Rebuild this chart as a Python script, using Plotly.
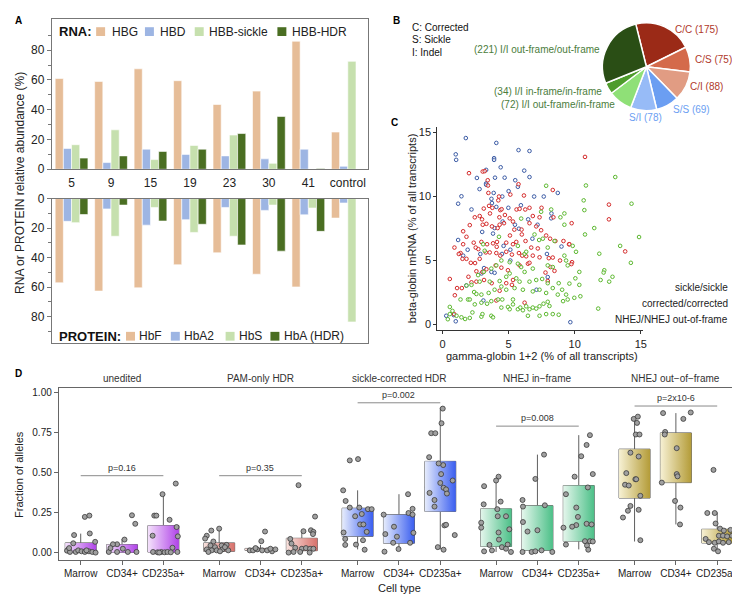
import plotly.graph_objects as go

W, H = 740, 594
def px(x): return x / W
def py(y): return 1 - y / H

FONT = "Liberation Sans, Arial, sans-serif"

# ---------------- Panel A data ----------------
groups = ["5", "9", "15", "19", "23", "30", "41", "control"]
rna_names = ["HBG", "HBD", "HBB-sickle", "HBB-HDR"]
rna_hbg = [61, 59, 67.5, 59.5, 43.5, 52.5, 86, 25]
rna_hbd = [14, 4.5, 13.5, 10, 9, 7, 13.5, 2]
rna_sickle = [16.5, 26.5, 6.5, 16, 23, 4, 0, 72.5]
rna_hdr = [7.5, 9, 12, 13.5, 24, 35.5, 0.5, 0]
prot_names = ["HbF", "HbA2", "HbS", "HbA (HDR)"]
prot_hbf = [57, 62.6, 60.4, 44.8, 36.7, 51.2, 59.8, 13.2]
prot_hba2 = [15.4, 7, 18, 14.3, 6, 8, 11, 3]
prot_hbs = [16.3, 25.5, 6, 22.9, 25.5, 4.4, 6.4, 83.5]
prot_hba = [10.8, 4.4, 15.2, 17.4, 31.4, 35.6, 22.2, 0]
a_yticks = [0, 20, 40, 60, 80]

# ---------------- Panel B data ----------------
pie_labels = ["C/C", "C/S", "C/I", "S/S", "S/I",
              "I/I out-frame/in-frame", "I/I in-frame/in-frame", "I/I out-frame/out-frame"]
pie_values = [175, 75, 88, 69, 78, 72, 34, 221]
key_lines = ["C: Corrected", "S: Sickle", "I: Indel"]

# ---------------- Panel C data ----------------
sickle_pts = [(1.76,14.54),(1.0,13.27),(1.03,12.84),(4.07,14.16),(5.75,13.6),(6.58,13.53),(6.18,12.0),
              (3.9,12.97),(3.9,12.84),(4.4,12.26),(3.3,12.06),(2.6,11.43),(3.97,11.45),(4.7,11.45),
              (5.5,11.25),(6.58,11.5),(3.3,11.0),(3.3,10.9),(5.7,10.74),(2.8,10.56),(1.43,10.0),
              (3.87,10.26),(5.0,10.4),(1.18,9.42),(2.19,8.97),(3.7,9.8),(3.74,9.47),(4.52,9.98),
              (5.93,9.3),(6.93,9.98),(7.66,9.98),(8.72,10.26),(8.24,8.66),(8.22,8.28),(4.98,9.1),
              (4.07,9.17),(7.19,7.78),(5.48,7.78),(5.78,7.47),(6.48,8.2),(4.55,8.03),(3.94,7.52),
              (3.82,7.09),(3.0,7.22),(1.18,6.59),(1.56,5.37),(1.9,5.83),(4.62,6.13),(5.13,5.83),
              (6.8,6.69),(9.0,6.08),(7.9,5.5),(4.5,5.5),(2.86,5.5),(3.14,4.4),(2.95,3.98),(3.7,4.1),
              (3.94,4.03),(5.13,4.99),(7.96,3.7),(1.8,3.04),(3.09,1.87),(7.11,2.71),(0.28,0.68),
              (1.0,0.25),(9.67,0.18),(0.85,0.73)]
corrected_pts = [(2.0,11.8),(3.04,11.93),(3.19,11.96),(3.42,11.25),(3.44,10.84),(5.75,10.94),(5.13,10.13),
                 (4.27,9.98),(3.47,10.26),(8.34,10.49),(10.78,13.07),(12.59,9.35),(12.59,8.2),(13.82,5.7),
                 (9.77,7.9),(9.57,6.26),(0.9,6.0),(1.56,6.26),(1.36,5.57),(1.23,5.5),(1.51,5.12),(0.55,3.55),
                 (0.93,2.28),(1.1,2.84),(1.46,2.84),(0.88,0.81),(1.56,7.27),(1.81,6.84),(2.06,7.75),
                 (2.44,8.36),(2.81,8.46),(2.99,8.2),(3.12,9.04),(3.52,9.25),(3.59,8.66),(3.77,9.1),
                 (4.22,9.68),(4.37,8.92),(4.47,8.99),(4.3,8.36),(4.72,8.54),(5.08,8.28),(5.33,8.03),
                 (5.6,8.97),(5.83,9.02),(6.26,8.97),(6.58,9.1),(6.83,8.46),(7.34,8.36),(8.39,8.36),
                 (7.49,9.1),(6.16,10.06),(3.04,7.78),(3.32,7.85),(3.74,7.65),(4.17,7.52),(4.32,7.78),
                 (4.65,7.9),(5.1,6.94),(5.43,7.4),(5.98,7.4),(6.0,7.02),(6.58,7.9),(7.09,7.65),(7.46,7.35),
                 (7.84,6.94),(8.14,6.69),(8.54,6.51),(9.15,6.51),(9.6,6.26),(2.36,6.38),(2.51,6.0),
                 (2.71,5.88),(2.94,6.44),(3.37,6.26),(3.82,6.33),(4.12,6.44),(4.1,6.06),(4.82,6.38),
                 (5.33,6.26),(5.58,6.44),(6.28,6.51),(6.71,6.0),(7.21,5.93),(1.81,5.12),(2.14,4.81),
                 (2.46,4.79),(2.81,5.12),(3.27,5.62),(3.57,5.62),(4.07,5.57),(4.37,5.37),(4.82,5.67),
                 (5.25,5.45),(5.78,5.57),(6.03,5.37),(6.33,5.32),(6.83,5.37),(7.34,5.24),(8.04,5.17),
                 (8.34,5.22),(8.89,4.99),(9.8,4.86),(9.75,4.71),(2.56,4.15),(3.02,4.1),(3.32,4.31),
                 (4.02,4.61),(4.45,4.43),(5.83,4.61),(6.46,4.74),(6.58,4.81),(7.79,4.05),(8.47,4.18),
                 (2.19,3.29),(2.56,3.34),(3.14,3.47),(3.72,3.22),(4.82,3.22),(5.33,3.47),(4.32,2.63),
                 (5.25,3.09),(6.21,1.7),(7.96,3.39),(4.07,1.87),(1.96,3.72),(4.95,4.23),(8.17,4.48)]
nhej_pts = [(7.84,10.82),(10.85,10.84),(13.07,11.5),(10.68,9.68),(10.73,8.92),(10.78,7.02),(11.48,7.52),
            (14.3,9.42),(14.87,6.82),(13.44,6.13),(14.25,4.81),(11.86,5.52),(12.86,3.72),(12.61,3.34),
            (12.24,4.23),(12.19,4.05),(11.96,3.47),(11.78,1.24),(9.22,8.66),(8.22,8.97),(8.92,8.36),
            (7.46,8.79),(9.22,7.78),(7.59,6.69),(8.47,6.51),(9.85,6.13),(10.1,5.67),(9.22,5.37),
            (9.35,4.99),(9.47,4.61),(10.35,4.1),(10.05,3.6),(10.35,3.09),(9.6,3.19),(10.43,2.2),
            (9.97,2.08),(9.47,1.95),(9.35,2.33),(9.05,2.71),(8.79,3.22),(8.34,2.84),(7.96,3.22),
            (7.54,3.55),(7.09,3.47),(6.58,3.34),(6.21,4.1),(5.95,4.48),(5.7,4.74),(5.08,4.86),
            (4.45,4.99),(4.07,4.61),(3.69,4.36),(3.12,4.1),(2.69,3.85),(2.19,3.09),(1.81,3.04),
            (2.39,2.53),(2.56,2.38),(2.94,2.33),(3.49,2.46),(3.94,2.71),(4.45,2.96),(4.82,2.71),
            (5.45,2.84),(6.08,2.71),(6.83,2.58),(7.34,2.71),(7.84,2.46),(1.36,1.95),(1.93,1.95),
            (2.44,1.57),(2.94,1.7),(3.37,1.62),(3.69,1.82),(4.2,1.95),(4.52,1.95),(4.95,1.37),
            (5.08,1.19),(5.33,1.57),(5.7,1.19),(5.88,1.32),(6.08,1.11),(6.33,1.42),(6.58,1.19),
            (6.83,1.32),(7.09,1.24),(7.34,1.42),(7.64,1.62),(7.96,1.77),(8.09,1.44),(8.34,0.81),
            (8.79,0.76),(6.46,0.68),(7.34,0.68),(7.84,0.81),(3.69,0.68),(3.82,0.56),(2.94,0.61),
            (2.06,0.51),(1.43,0.56),(1.71,0.43),(2.26,0.94),(0.75,1.06),(0.55,0.81),(0.4,0.41),
            (1.06,0.68),(0.55,1.37),(3.02,0.81),(5.33,1.95),(4.45,1.32),(9.12,1.82),(8.72,2.33),
            (2.06,1.95),(3.07,6.26),(3.19,5.75),(4.27,6.84),(5.7,6.13),(5.95,8.26),(6.21,5.5),
            (6.96,7.02),(7.31,6.59),(7.96,6.0),(6.33,5.67),(6.83,4.36),(7.96,4.61),(8.34,4.48),
            (5.08,3.98),(5.58,3.6),(2.81,3.34),(3.57,3.34),(4.32,3.39),(5.83,3.34),(4.82,3.72)]
c_names = ["sickle/sickle", "corrected/corrected", "NHEJ/NHEJ out-of-frame"]
c_ticks = [0, 5, 10, 15]

# ---------------- Panel D data ----------------
facets = ["unedited", "PAM-only HDR", "sickle-corrected HDR", "NHEJ in\u2212frame", "NHEJ out\u2212of\u2212frame"]
cell_types = ["Marrow", "CD34+", "CD235a+"]
box_q1 = [0.005, 0.003, 0.005, 0.010, 0.016, 0.014, 0.103, 0.060, 0.258, 0.040, 0.016, 0.073, 0.341, 0.437, 0.062]
box_med = [0.020, 0.010, 0.010, 0.030, 0.022, 0.035, 0.224, 0.125, 0.409, 0.149, 0.137, 0.204, 0.466, 0.548, 0.087]
box_q3 = [0.0625, 0.052, 0.170, 0.0625, 0.028, 0.091, 0.278, 0.238, 0.569, 0.274, 0.294, 0.419, 0.645, 0.746, 0.147]
box_lo = [0.0, 0.0, 0.0, 0.002, 0.006, 0.0, 0.022, 0.016, 0.022, 0.006, 0.0, 0.022, 0.071, 0.177, 0.016]
box_hi = [0.12, 0.087, 0.37, 0.16, 0.05, 0.137, 0.389, 0.365, 0.903, 0.46, 0.611, 0.732, 0.847, 0.869, 0.252]

pts_unedited = [
    [(0.10,0.224),(0.21,0.232),(-0.16,0.111),(0.22,0.121),(-0.18,0.060),(0.35,0.069),(-0.30,0.022),(-0.33,0.014),
     (-0.26,0.006),(-0.12,0.006),(-0.06,0.016),(0.02,0.010),(0.10,0.006),(0.20,0.010),(0.28,0.006),(0.36,0.002),
     (-0.28,0.030),(0.14,0.016)],
    [(0.24,0.234),(0.32,0.181),(0.06,0.083),(-0.12,0.054),(-0.22,0.054),(-0.32,0.006),(-0.12,0.006),(0.14,0.006),
     (0.35,0.006),(0.02,0.026),(-0.28,0.030)],
    [(0.30,0.431),(-0.02,0.365),(-0.22,0.232),(-0.17,0.232),(0.15,0.206),(-0.26,0.107),(0.35,0.103),(0.32,0.161),
     (0.22,0.032),(-0.25,0.006),(-0.14,0.004),(-0.05,0.006),(0.03,0.004),(0.10,0.006),(0.18,0.004),(0.34,0.006),
     (-0.10,0.002)]]
pts_pam = [
    [(0.0,0.151),(-0.19,0.139),(-0.30,0.107),(-0.34,0.089),(-0.14,0.071),(-0.21,0.046),(-0.10,0.036),(0.06,0.046),
     (0.18,0.050),(-0.30,0.022),(-0.18,0.016),(-0.06,0.016),(0.08,0.022),(0.22,0.016),(0.14,0.036),(0.02,0.010),
     (-0.26,0.006)],
    [(0.11,0.133),(0.02,0.073),(-0.26,0.016),(-0.18,0.016),(-0.08,0.022),(0.04,0.016),(0.16,0.016),(0.28,0.010),
     (0.36,0.022),(0.24,0.026),(-0.12,0.030)],
    [(-0.08,0.421),(0.32,0.226),(0.22,0.141),(0.28,0.131),(0.27,0.117),(0.04,0.135),(-0.28,0.087),(-0.25,0.058),
     (-0.16,0.032),(0.0,0.026),(0.10,0.030),(0.20,0.026),(-0.32,0.002),(-0.20,0.006),(-0.04,0.006),(0.19,0.002),
     (0.28,0.026)]]
pts_sickle = [
    [(-0.19,0.575),(0.01,0.583),(-0.35,0.389),(-0.29,0.323),(-0.19,0.282),(0.04,0.282),(0.10,0.242),(0.25,0.272),
     (0.34,0.272),(0.06,0.177),(0.14,0.177),(-0.34,0.127),(0.22,0.131),(-0.30,0.087),(0.13,0.079),(-0.30,0.050),
     (-0.04,0.052),(0.17,0.020),(-0.06,0.228)],
    [(0.22,0.365),(-0.37,0.238),(0.23,0.248),(0.33,0.274),(0.33,0.238),(-0.12,0.163),(0.35,0.125),(-0.33,0.117),
     (-0.05,0.101),(0.27,0.063),(-0.14,0.063),(-0.35,0.008),(-0.01,0.024)],
    [(0.06,0.897),(0.03,0.806),(-0.22,0.744),(-0.12,0.744),(-0.27,0.595),(0.07,0.546),(-0.04,0.556),(0.02,0.490),
     (0.30,0.450),(0.0,0.435),(0.08,0.405),(0.14,0.395),(0.16,0.369),(-0.26,0.373),(-0.14,0.329),(-0.14,0.288),
     (0.10,0.171),(0.14,0.175),(0.35,0.111),(-0.06,0.036),(0.08,0.020)]]
pts_nhej_in = [
    [(0.06,0.474),(0.0,0.45),(0.11,0.319),(0.03,0.272),(0.24,0.228),(0.04,0.228),(0.32,0.147),(0.06,0.127),
     (0.07,0.083),(0.28,0.052),(0.14,0.036),(0.24,0.026),(0.36,0.006),(-0.10,0.016),(-0.16,0.050),(-0.29,0.415),
     (-0.30,0.302),(-0.36,0.188),(-0.36,0.157),(-0.29,0.010)],
    [(0.16,0.611),(-0.05,0.46),(-0.36,0.329),(0.18,0.296),(-0.35,0.288),(-0.35,0.192),(-0.24,0.133),(0.0,0.141),
     (-0.36,0.006),(-0.14,0.006),(-0.05,0.010),(0.10,0.016),(0.36,0.006)],
    [(0.27,0.732),(0.19,0.671),(0.06,0.601),(0.34,0.49),(-0.10,0.474),(0.22,0.407),(-0.31,0.365),(-0.06,0.282),
     (-0.02,0.224),(0.19,0.181),(0.31,0.177),(-0.37,0.157),(-0.06,0.173),(-0.16,0.163),(-0.31,0.052),(0.15,0.073),
     (0.27,0.073),(0.34,0.071),(0.20,0.046),(0.23,0.020)]]
pts_nhej_out = [
    [(-0.02,0.833),(0.06,0.808),(0.08,0.847),(0.03,0.736),(0.12,0.736),(-0.10,0.623),(0.10,0.599),(-0.20,0.496),
     (0.02,0.458),(0.04,0.458),(-0.23,0.424),(-0.14,0.419),(0.14,0.355),(-0.10,0.292),(-0.16,0.262),(0.10,0.268),
     (-0.28,0.220),(0.14,0.079)],
    [(-0.31,0.869),(0.36,0.873),(0.18,0.833),(-0.26,0.752),(-0.27,0.736),(0.02,0.651),(0.02,0.49),(0.04,0.476),
     (-0.34,0.437),(-0.02,0.323),(0.11,0.282),(0.10,0.177)],
    [(-0.09,0.516),(-0.24,0.248),(-0.06,0.248),(-0.04,0.183),(0.07,0.151),(0.16,0.139),(0.32,0.143),(0.04,0.107),
     (0.14,0.107),(0.24,0.103),(0.36,0.107),(-0.28,0.087),(-0.20,0.067),(-0.06,0.063),(0.04,0.071),(0.14,0.063),
     (0.28,0.067),(-0.08,0.026),(0.02,0.010)]]
facet_points = [pts_unedited, pts_pam, pts_sickle, pts_nhej_in, pts_nhej_out]
p_labels = ["p=0.16", "p=0.35", "p=0.002", "p=0.008", "p=2x10-6"]
p_heights = [0.48, 0.48, 0.933, 0.788, 0.913]
d_yticks = [0, 0.25, 0.5, 0.75, 1.0]

# ---------------- styles ----------------
rna_colors = ["#e6bd98", "#9db5e3", "#c6e0ae", "#4a6e22"]
pie_colors = ["#9b2a17", "#d46a4b", "#e19c83", "#6b9ef2", "#97bbf7", "#8fe077", "#4e9c2c", "#2a4e15"]
pie_text_colors = ["#b0392a"] * 3 + ["#6b9ef2"] * 2 + ["#4b7d3c"] * 3
c_colors = ["#3b5ba5", "#d42a2a", "#5cb82f"]
facet_light = ["#f4e2fb", "#f8e2de", "#e6ecfc", "#e4f6ec", "#f7f1d4"]
facet_dark = ["#b043e8", "#d8716b", "#3a5ef0", "#4cc088", "#b49c38"]
FACET_STEP = 3.35
BOX_W = 0.75

fig = go.Figure()

# Panel A bars
for name, vals, col in zip(rna_names, [rna_hbg, rna_hbd, rna_sickle, rna_hdr], rna_colors):
    fig.add_trace(go.Bar(x=groups, y=vals, name=name, marker=dict(color=col, line=dict(color="white", width=0.6)),
                         xaxis="x", yaxis="y", showlegend=False))
for name, vals, col in zip(prot_names, [prot_hbf, prot_hba2, prot_hbs, prot_hba], rna_colors):
    fig.add_trace(go.Bar(x=groups, y=vals, name=name, marker=dict(color=col, line=dict(color="white", width=0.6)),
                         xaxis="x2", yaxis="y2", showlegend=False))

# Panel B pie
fig.add_trace(go.Pie(labels=pie_labels, values=pie_values, sort=False, direction="clockwise", rotation=-14,
                     textinfo="none", marker=dict(colors=pie_colors, line=dict(color="white", width=1.5)),
                     domain=dict(x=[px(596), px(686)], y=[py(98), py(8)]), showlegend=False))

# Panel C scatter
for name, pts, col in zip(c_names, [sickle_pts, corrected_pts, nhej_pts], c_colors):
    fig.add_trace(go.Scatter(x=[p[0] for p in pts], y=[p[1] for p in pts], mode="markers", name=name,
                             marker=dict(size=3.6, color="rgba(255,255,255,0.6)", line=dict(color=col, width=1)),
                             xaxis="x3", yaxis="y3", showlegend=False))

# Panel D boxes
d_tickvals, d_ticktext = [], []
for f, fname in enumerate(facets):
    for j, ct in enumerate(cell_types):
        k = f * 3 + j
        pos = f * FACET_STEP + j
        d_tickvals.append(pos)
        d_ticktext.append(ct)
        fig.add_trace(go.Scatter(x=[pos - BOX_W / 2, pos + BOX_W / 2, pos + BOX_W / 2, pos - BOX_W / 2, pos - BOX_W / 2],
                                 y=[box_q1[k], box_q1[k], box_q3[k], box_q3[k], box_q1[k]],
                                 mode="lines", fill="toself", line=dict(width=0),
                                 fillgradient=dict(type="horizontal",
                                                   colorscale=[[0, facet_light[f]], [1, facet_dark[f]]]),
                                 xaxis="x4", yaxis="y4", showlegend=False, hoverinfo="skip"))
        fig.add_trace(go.Box(x=[pos], q1=[box_q1[k]], median=[box_med[k]], q3=[box_q3[k]],
                             lowerfence=[box_lo[k]], upperfence=[box_hi[k]], width=BOX_W, whiskerwidth=0,
                             fillcolor="rgba(0,0,0,0)", line=dict(color="#606060", width=1),
                             boxpoints=False, xaxis="x4", yaxis="y4", showlegend=False))
        pts = facet_points[f][j]
        fig.add_trace(go.Scatter(x=[pos + p[0] for p in pts], y=[p[1] for p in pts], mode="markers",
                                 marker=dict(size=5, color="#a0a0a0", line=dict(color="#3a3a3a", width=0.8)),
                                 xaxis="x4", yaxis="y4", showlegend=False))

shapes = []
annotations = []

# p-value brackets and facet titles
for f in range(len(facets)):
    x0 = f * FACET_STEP
    x1 = f * FACET_STEP + 2
    shapes.append(dict(type="line", xref="x4", yref="y4", x0=x0, x1=x1, y0=p_heights[f], y1=p_heights[f],
                       line=dict(color="#8a8a8a", width=1)))
    annotations.append(dict(xref="x4", yref="y4", x=(x0 + x1) / 2, y=p_heights[f], yshift=8, text=p_labels[f],
                            showarrow=False, font=dict(size=9, color="#333")))
    annotations.append(dict(xref="x4", yref="paper", x=f * FACET_STEP + 1, y=py(372), text=facets[f],
                            showarrow=False, font=dict(size=10, color="#333")))

# Panel A legends
def legend_row(title, names, sq_centers, text_starts, yc):
    annotations.append(dict(xref="paper", yref="paper", x=px(49), y=py(yc), xanchor="left", yanchor="middle",
                            text="<b>" + title + "</b>", showarrow=False, font=dict(size=13, color="#111")))
    for nm, sc, ts, col in zip(names, sq_centers, text_starts, rna_colors):
        shapes.append(dict(type="rect", xref="paper", yref="paper", x0=px(sc - 4.5), x1=px(sc + 4.5),
                           y0=py(yc + 4.5), y1=py(yc - 4.5), fillcolor=col, line=dict(width=0)))
        annotations.append(dict(xref="paper", yref="paper", x=px(ts), y=py(yc), xanchor="left", yanchor="middle",
                                text=nm, showarrow=False, font=dict(size=12, color="#222")))

legend_row("RNA:", rna_names, [93, 142, 192, 275], [102, 151, 200, 283], 17)
legend_row("PROTEIN:", prot_names, [123, 168, 223, 268], [130, 175, 230, 275], 329)

annotations.append(dict(xref="paper", yref="paper", x=px(12), y=py(172), textangle=-90,
                        text="RNA or PROTEIN relative abundance (%)", showarrow=False,
                        font=dict(size=12, color="#222")))

# Panel B labels
pie_label_pos = [(668, 15, "left"), (688, 46, "left"), (683, 73, "left"), (666, 97, "left"), (622, 105, "left"),
                 (611, 92, "right"), (598, 78, "right"), (596, 35, "right")]
for lab, val, col, (lx, ly, anc) in zip(pie_labels, pie_values, pie_text_colors, pie_label_pos):
    txt = f"{lab} ({val})" if anc == "left" else f"({val}) {lab}"
    annotations.append(dict(xref="paper", yref="paper", x=px(lx), y=py(ly), xanchor=anc, yanchor="middle",
                            text=txt, showarrow=False, font=dict(size=10, color=col)))
for i, line in enumerate(key_lines):
    annotations.append(dict(xref="paper", yref="paper", x=px(404), y=py(13 + i * 12.5), xanchor="left",
                            yanchor="middle", text=line, showarrow=False, font=dict(size=10, color="#111")))

# Panel C labels / legend (ring key drawn as small circle shapes)
for i, (name, col) in enumerate(zip(c_names, c_colors)):
    yy = 279 + i * 16.5
    annotations.append(dict(xref="paper", yref="paper", x=px(725), y=py(yy), xanchor="right", yanchor="middle",
                            text=name, showarrow=False, font=dict(size=10, color="#222")))
    shapes.append(dict(type="circle", xref="paper", yref="paper", x0=px(731), x1=px(735.5),
                       y0=py(yy + 2.25), y1=py(yy - 2.25), line=dict(color=col, width=1),
                       fillcolor="rgba(255,255,255,0.6)"))
annotations.append(dict(xref="paper", yref="paper", x=px(536), y=py(349), text="gamma-globin 1+2 (% of all transcripts)",
                        showarrow=False, font=dict(size=11, color="#222")))
annotations.append(dict(xref="paper", yref="paper", x=px(406), y=py(218), textangle=-90,
                        text="beta-globin mRNA (% of all transcripts)", showarrow=False,
                        font=dict(size=11, color="#222")))

# Panel D axis titles
annotations.append(dict(xref="paper", yref="paper", x=px(393), y=py(587), text="Cell type",
                        showarrow=False, font=dict(size=11, color="#222")))
annotations.append(dict(xref="paper", yref="paper", x=px(11), y=py(470), textangle=-90, text="Fraction of alleles",
                        showarrow=False, font=dict(size=11, color="#222")))

# Panel letters
for letter, lx, ly in [("A", 5, 6), ("B", 385, 6), ("C", 383, 110), ("D", 5, 367)]:
    annotations.append(dict(xref="paper", yref="paper", x=px(lx), y=py(ly), xanchor="left", yanchor="middle",
                            text="<b>" + letter + "</b>", showarrow=False, font=dict(size=10, color="#000")))

for a in annotations:
    a.setdefault("xanchor", "center")
    a.setdefault("yanchor", "middle")

LC = "#777"
axis_common = dict(showgrid=False, zeroline=False)
fig.update_layout(
    width=W, height=H, margin=dict(l=0, r=0, t=0, b=0),
    paper_bgcolor="white", plot_bgcolor="white",
    font=dict(family=FONT, color="#222"),
    barmode="group", bargap=0.17, bargroupgap=0, boxmode="overlay",
    xaxis=dict(domain=[px(44), px(361)], anchor="y", type="category", showline=True, mirror=True, linecolor=LC,
               ticks="outside", ticklen=2, tickcolor="rgba(0,0,0,0)", tickfont=dict(size=12), **axis_common),
    yaxis=dict(domain=[py(158), py(4)], anchor="x", range=[0, 101], showline=True, mirror=True, linecolor=LC,
               tickvals=a_yticks, ticks="outside", ticklen=4, tickcolor=LC, tickfont=dict(size=12),
               minor=dict(tickvals=[10, 30, 50, 70, 90], ticks="outside", ticklen=3, tickcolor=LC), **axis_common),
    xaxis2=dict(domain=[px(44), px(361)], anchor="y2", type="category", showline=True, mirror=True, linecolor=LC,
                showticklabels=False, **axis_common),
    yaxis2=dict(domain=[py(336), py(188)], anchor="x2", range=[97.8, 0], showline=True, mirror=True, linecolor=LC,
                tickvals=a_yticks, ticks="outside", ticklen=4, tickcolor=LC, tickfont=dict(size=12),
                minor=dict(tickvals=[10, 30, 50, 70, 90], ticks="outside", ticklen=3, tickcolor=LC), **axis_common),
    xaxis3=dict(domain=[px(431), px(638)], anchor="y3", range=[-0.4, 15.2], showline=True, linecolor="#333",
                tickvals=c_ticks, ticks="outside", ticklen=3, tickcolor="#333", tickfont=dict(size=11), **axis_common),
    yaxis3=dict(domain=[py(323), py(115)], anchor="x3", range=[-0.46, 15.38], showline=True, linecolor="#333",
                tickvals=c_ticks, ticks="outside", ticklen=3, tickcolor="#333", tickfont=dict(size=11), **axis_common),
    xaxis4=dict(domain=[px(51), px(737)], anchor="y4", range=[-0.53, 16.0], showline=True, mirror=True,
                linecolor="#666", tickvals=d_tickvals, ticktext=d_ticktext, ticks="outside", ticklen=4,
                tickcolor="#666", tickfont=dict(size=10, color="#222"), **axis_common),
    yaxis4=dict(domain=[py(558), py(382)], anchor="x4", range=[-0.043, 1.025], showline=True, mirror=True,
                linecolor="#666", tickvals=d_yticks, ticktext=[f"{v:.2f}" for v in d_yticks], ticks="outside",
                ticklen=4, tickcolor="#666", tickfont=dict(size=10, color="#222"), **axis_common),
    shapes=shapes, annotations=annotations,
)

fig.write_html("out.html")
